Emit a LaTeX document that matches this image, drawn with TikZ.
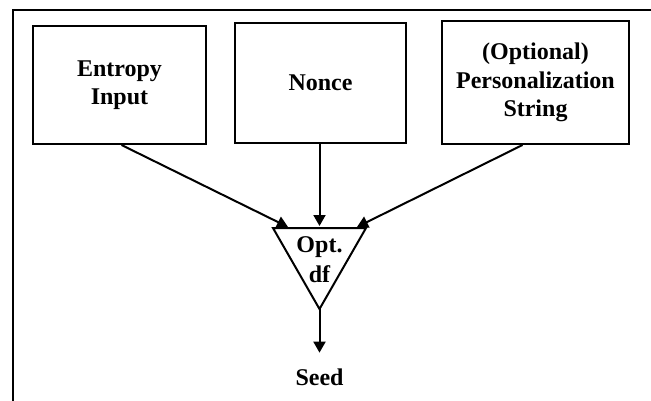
\documentclass[tikz,border=0pt]{standalone}
\usepackage{fontspec}
\setmainfont{Liberation Serif}
\usetikzlibrary{arrows.meta}

\begin{document}
\begin{tikzpicture}[
    x = 1pt, y = -1pt,
    line join=miter,
    inbox/.style = {draw, line width=2pt, align=center, inner sep=0pt,
                    font=\bfseries\fontsize{24}{28.5}\selectfont},
    lbl/.style = {align=center, inner sep=0pt,
                  font=\bfseries\fontsize{24}{30}\selectfont},
    feed/.style = {line width=2pt, -{Triangle[length=11pt,width=12pt]}}
]

\useasboundingbox (0,0) rectangle (651,400);

% outer frame
\draw[line width=2pt] (12.5,402) -- (12.5,10) -- (653,10);

\node[inbox, minimum width=173pt, minimum height=118pt] (entropy) at (119.5,85) {Entropy\\Input};
\node[inbox, minimum width=171pt, minimum height=120pt] (nonce) at (320.5,83) {Nonce};
\node[inbox, minimum width=187pt, minimum height=123pt] (pers) at (535.5,82.5) {(Optional)\\Personalization\\String};

% derivation function
\coordinate (dfL) at (273,228);
\coordinate (dfR) at (366,228);
\coordinate (dfA) at (319.5,309);
\draw[line width=2pt] (dfL) -- (dfR) -- (dfA) -- cycle;
\node[lbl] (df) at (319.5,260) {Opt.\\df};

\coordinate (inL) at (288,227);
\coordinate (inM) at (319.5,226);
\coordinate (inR) at (357,227);

\draw[feed] ([xshift=2pt]entropy.south) -- (inL);
\draw[feed] (nonce.south -| inM) -- (inM);
\draw[feed] ([xshift=-13pt]pers.south) -- (inR);

\node[lbl, anchor=base] (seed) at (319.5,385.5) {Seed};
\draw[feed] (dfA) -- ([yshift=16pt]seed.north);

\end{tikzpicture}
\end{document}
